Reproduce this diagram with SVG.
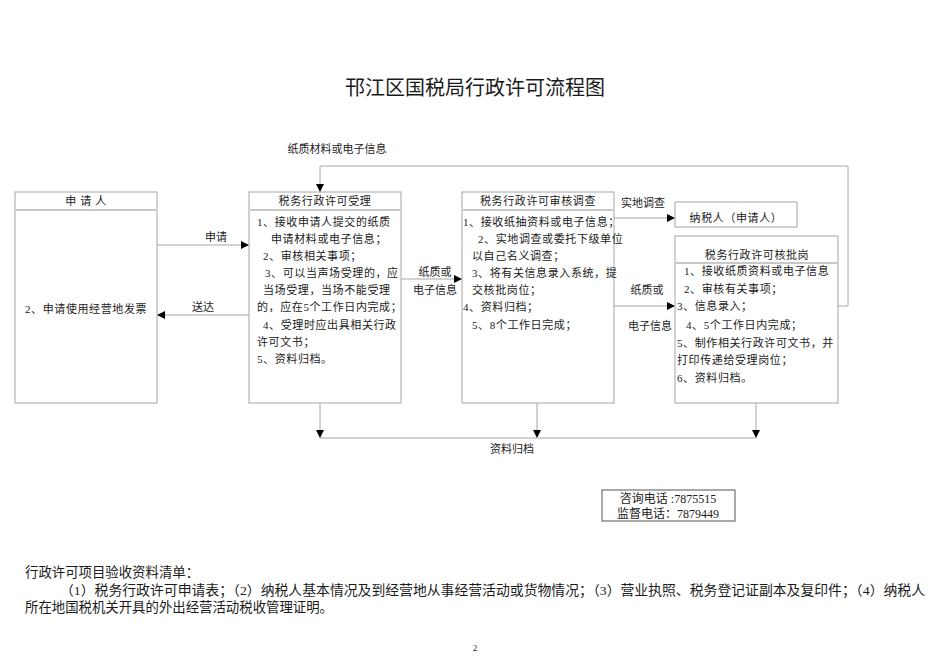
<svg xmlns="http://www.w3.org/2000/svg" width="950" height="672" viewBox="0 0 950 672">
<style>
text{font-family:"Liberation Serif","Noto Sans CJK SC",serif;fill:#1a1a1a;font-size:11px}
.box{fill:#fff;stroke:#a6a6a6;stroke-width:1}
.hd{stroke:#c8c8c8;stroke-width:2}
.ln{fill:none;stroke:#a6a6a6;stroke-width:1}
.t{letter-spacing:0.6px}
.c{text-anchor:middle}
.p{font-size:13.4px}
</style>
<defs>
<marker id="ah" viewBox="0 0 10 10" refX="10" refY="5" markerWidth="8" markerHeight="8" markerUnits="userSpaceOnUse" orient="auto">
<path d="M0,0 L10,5 L0,10 z" fill="#000"/>
</marker>
</defs>
<rect width="950" height="672" fill="#fff"/>
<text x="475" y="95" class="c" style="font-size:20px;font-family:'Noto Sans CJK SC',sans-serif">邗江区国税局行政许可流程图</text>

<g id="connectors">
<path class="ln" d="M157,245 H249" marker-end="url(#ah)"/>
<path class="ln" d="M249,315 H157" marker-end="url(#ah)"/>
<path class="ln" d="M401,279 H462" marker-end="url(#ah)"/>
<path class="ln" d="M614,218 H675" marker-end="url(#ah)"/>
<path class="ln" d="M614,306 H675" marker-end="url(#ah)"/>
<path class="ln" d="M838,306 H848 V166 H320 V192" marker-end="url(#ah)"/>
<path class="ln" d="M320,403 V438" marker-end="url(#ah)"/>
<path class="ln" d="M537,403 V438" marker-end="url(#ah)"/>
<path class="ln" d="M756,403 V438" marker-end="url(#ah)"/>
<path class="ln" d="M320,438 H756"/>
<text x="216" y="241" class="c">申请</text>
<text x="203" y="311" class="c">送达</text>
<text x="435" y="276" class="c">纸质或</text>
<text x="435" y="294" class="c">电子信息</text>
<text x="643" y="207" class="c">实地调查</text>
<text x="647" y="294" class="c">纸质或</text>
<text x="650" y="330" class="c">电子信息</text>
<text x="337" y="153" class="c">纸质材料或电子信息</text>
<text x="512" y="453" class="c">资料归档</text>
</g>

<g id="applicant">
<rect class="box" x="15" y="192" width="142" height="211"/>
<line class="hd" x1="16" y1="210" x2="156" y2="210"/>
<text x="86" y="205" class="c t">申 请 人</text>
<text x="25" y="313" class="t">2、申请使用经营地发票</text>
</g>

<g id="accept">
<rect class="box" x="249" y="192" width="152" height="211"/>
<line class="hd" x1="250" y1="210" x2="400" y2="210"/>
<text x="325" y="205" class="c t">税务行政许可受理</text>
<text x="257" y="226" class="t">1、接收申请人提交的纸质</text>
<text x="271" y="243" class="t">申请材料或电子信息；</text>
<text x="263" y="260" class="t">2、审核相关事项；</text>
<text x="265" y="277" class="t">3、可以当声场受理的，应</text>
<text x="263" y="294" class="t">当场受理，当场不能受理</text>
<text x="257" y="311" class="t">的，应在5个工作日内完成；</text>
<text x="263" y="329" class="t">4、受理时应出具相关行政</text>
<text x="257" y="346" class="t">许可文书；</text>
<text x="257" y="363" class="t">5、资料归档。</text>
</g>

<g id="review">
<rect class="box" x="462" y="192" width="152" height="211"/>
<line class="hd" x1="463" y1="210" x2="613" y2="210"/>
<text x="538" y="205" class="c t">税务行政许可审核调查</text>
<text x="463" y="226" class="t">1、接收纸抽资料或电子信息；</text>
<text x="478" y="243" class="t">2、实地调查或委托下级单位</text>
<text x="472" y="260" class="t">以自己名义调查；</text>
<text x="472" y="277" class="t">3、将有关信息录入系统，提</text>
<text x="472" y="294" class="t">交核批岗位；</text>
<text x="463" y="311" class="t">4、资料归档；</text>
<text x="472" y="329" class="t">5、8个工作日完成；</text>
</g>

<g id="taxpayer">
<rect class="box" x="675" y="202" width="122" height="25"/>
<text x="736" y="222" class="c t">纳税人（申请人）</text>
</g>

<g id="approve">
<rect class="box" x="675" y="236" width="163" height="167"/>
<line class="hd" x1="676" y1="263" x2="837" y2="263"/>
<text x="757" y="259" class="c t">税务行政许可核批岗</text>
<text x="684" y="275" class="t">1、接收纸质资料或电子信息</text>
<text x="684" y="293" class="t">2、审核有关事项；</text>
<text x="677" y="310" class="t">3、信息录入；</text>
<text x="686" y="329" class="t">4、5个工作日内完成；</text>
<text x="677" y="347" class="t">5、制作相关行政许可文书，并</text>
<text x="677" y="364" class="t">打印传递给受理岗位；</text>
<text x="677" y="382" class="t">6、资料归档。</text>
</g>

<g id="contact">
<rect x="602" y="490" width="133" height="31" fill="#fff" stroke="#555" stroke-width="1"/>
<text x="668" y="503" class="c" style="font-size:12px">咨询电话 :7875515</text>
<text x="668" y="518" class="c" style="font-size:12px">监督电话：7879449</text>
</g>

<text x="25" y="577" class="p">行政许可项目验收资料清单：</text>
<text x="60" y="595" class="p" textLength="865" lengthAdjust="spacingAndGlyphs">（1）税务行政许可申请表；（2）纳税人基本情况及到经营地从事经营活动或货物情况；（3）营业执照、税务登记证副本及复印件；（4）纳税人</text>
<text x="25" y="612" class="p">所在地国税机关开具的外出经营活动税收管理证明。</text>
<text x="475" y="651" class="c" style="font-size:9px">2</text>
</svg>
